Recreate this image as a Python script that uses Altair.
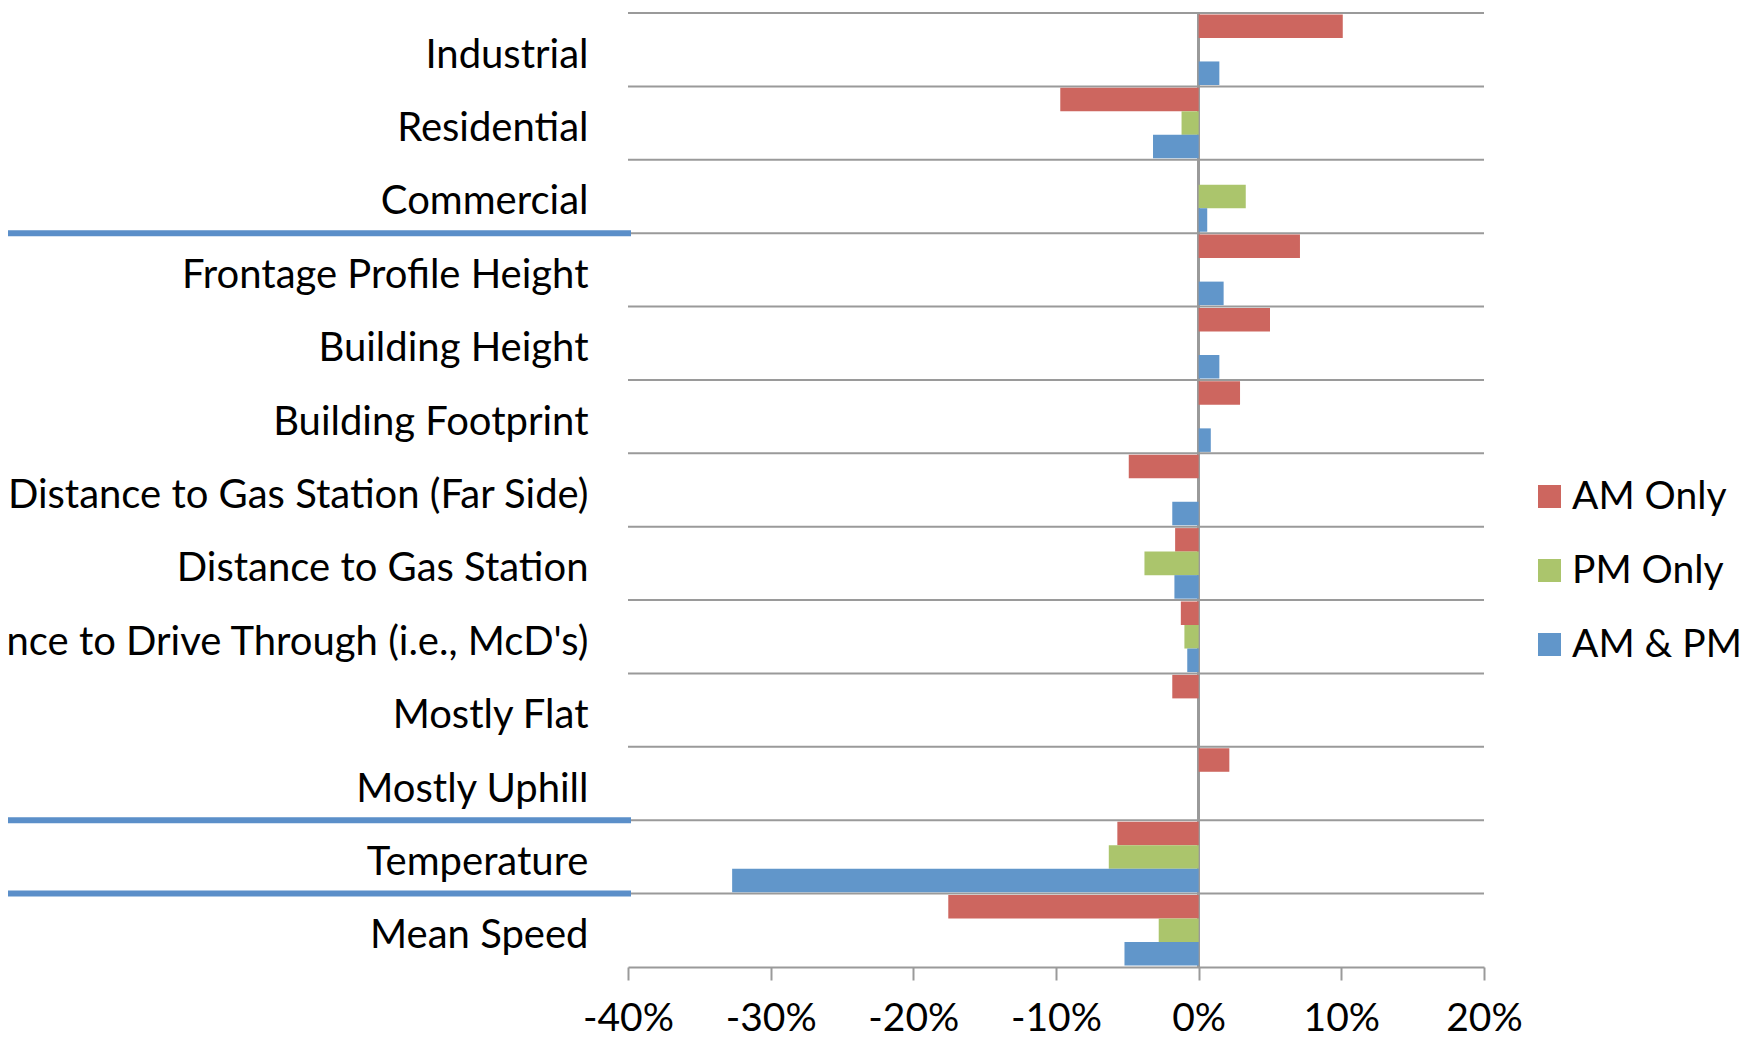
import altair as alt
import pandas as pd

categories = [
    "Industrial", "Residential", "Commercial", "Frontage Profile Height",
    "Building Height", "Building Footprint", "Distance to Gas Station (Far Side)",
    "Distance to Gas Station", "Distance to Drive Through (i.e., McD's)",
    "Mostly Flat", "Mostly Uphill", "Temperature", "Mean Speed",
]
series_names = ["AM Only", "PM Only", "AM & PM"]
am_only = [10.1, -9.7, None, 7.1, 5.0, 2.9, -4.9, -1.65, -1.25, -1.85, 2.15, -5.7, -17.55]
pm_only = [None, -1.2, 3.3, None, None, None, None, -3.8, -1.0, None, None, -6.3, -2.8]
am_pm = [1.45, -3.2, 0.6, 1.75, 1.45, 0.85, -1.85, -1.7, -0.8, None, None, -32.7, -5.2]
x_ticks = [-0.4, -0.3, -0.2, -0.1, 0, 0.1, 0.2]
separators = ["Frontage Profile Height", "Temperature", "Mean Speed"]
colors = ["#CD665F", "#ABC56C", "#6196CA"]

rows = []
for name, vals in zip(series_names, [am_only, pm_only, am_pm]):
    for c, v in zip(categories, vals):
        if v is not None:
            rows.append({"cat": c, "series": name, "value": v / 100.0})
bars_df = pd.DataFrame(rows)
cats_df = pd.DataFrame({"cat": categories})
sep_df = pd.DataFrame({"cat": separators})

W, H = 856, 954
FONT = "Lato"
FS = 40

yscale = alt.Scale(domain=categories, paddingInner=0, paddingOuter=0)

bars = alt.Chart(bars_df).mark_bar().encode(
    y=alt.Y("cat:N", scale=yscale, sort=categories, title=None,
            axis=alt.Axis(ticks=False, domain=False, labelPadding=40, labelLimit=0,
                          labelFont=FONT, labelFontSize=FS, labelColor="#000000",
                          labelOffset=6, grid=False)),
    yOffset=alt.YOffset("series:N", sort=series_names,
                        scale=alt.Scale(domain=series_names, paddingInner=0, paddingOuter=0.06)),
    x=alt.X("value:Q", scale=alt.Scale(domain=[-0.4, 0.2], nice=False, zero=False),
            title=None,
            axis=alt.Axis(values=x_ticks,
                          labelExpr="replace(format(datum.value, '.0%'), '\u2212', '-')",
                          labelOverlap=False, labelFlush=False,
                          grid=False, domainColor="#9A9A9A", domainWidth=2,
                          tickColor="#9A9A9A", tickWidth=2, tickSize=13,
                          labelFont=FONT, labelFontSize=39, labelColor="#000000",
                          labelPadding=19)),
    color=alt.Color("series:N", scale=alt.Scale(domain=series_names, range=colors),
                    title=None,
                    legend=alt.Legend(orient="none", legendX=902, legendY=464,
                                      symbolType="square", symbolSize=529,
                                      symbolStrokeWidth=0, labelFont=FONT,
                                      labelFontSize=39, labelColor="#000000",
                                      labelLimit=0,
                                      rowPadding=34, labelOffset=3, padding=0)),
)

grid = alt.Chart(cats_df).mark_rule(color="#9A9A9A", strokeWidth=2).encode(
    y=alt.Y("cat:N", scale=yscale, sort=categories, bandPosition=0),
    x=alt.value(0),
    x2=alt.value(W),
)

zero = alt.Chart(cats_df).mark_rule(color="#9A9A9A", strokeWidth=2).encode(
    x=alt.datum(0),
    y=alt.value(0),
    y2=alt.value(H),
)

seps = alt.Chart(sep_df).mark_rule(color="#5B8FC9", strokeWidth=6).encode(
    y=alt.Y("cat:N", scale=yscale, sort=categories, bandPosition=0),
    x=alt.value(-700),
    x2=alt.value(3),
)

chart = alt.layer(grid, zero, bars, seps).properties(
    width=W, height=H,
    autosize=alt.AutoSizeParams(type="none"),
    padding={"left": 620, "top": 5, "right": 262, "bottom": 72},
).configure_view(stroke=None)

chart.save("out.html", embed_options={"renderer": "svg", "actions": False})
